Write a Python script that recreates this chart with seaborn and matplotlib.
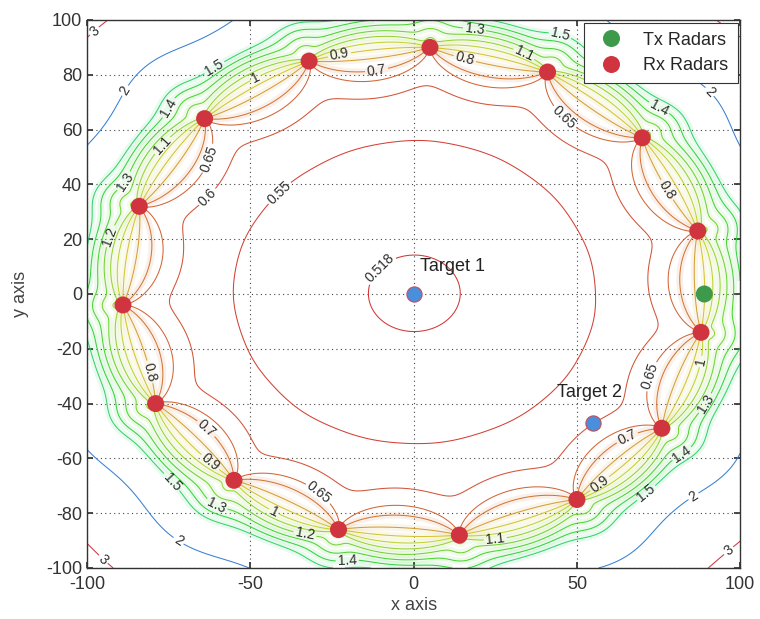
import numpy as np
import matplotlib
matplotlib.use("Agg")
import matplotlib.pyplot as plt
from matplotlib.colors import ListedColormap
import seaborn as sns
import pandas as pd

# Radar and target positions
tx_x = [89]
tx_y = [0]
rx_x = [5, 41, 70, 87, 88, 76, 50, 14, -23, -55, -79, -89, -84, -64, -32]
rx_y = [90, 81, 57, 23, -14, -49, -75, -88, -86, -68, -40, -4, 32, 64, 85]
tgt_x = [0, 55]
tgt_y = [0, -47]
tgt_names = ["Target 1", "Target 2"]
legend_names = ["Tx Radars", "Rx Radars"]
levels = [0.518, 0.55, 0.6, 0.65, 0.7, 0.8, 0.9, 1, 1.1, 1.2, 1.3, 1.4, 1.5, 2, 3]

sns.set_theme(style="ticks")
plt.rcParams["font.family"] = ["Liberation Sans", "DejaVu Sans"]
plt.rcParams["axes.unicode_minus"] = False

# Horizontal DOP of time-difference positioning with the receiver array
gx = np.linspace(-100, 100, 601)
gy = np.linspace(-100, 100, 601)
X, Y = np.meshgrid(gx, gy)
rows = []
for rx, ry in zip(rx_x, rx_y):
    dx, dy = X - rx, Y - ry
    d = np.hypot(dx, dy) + 1e-9
    rows.append(np.stack([dx / d, dy / d, np.ones_like(X)], axis=-1))
H = np.stack(rows, axis=-2)                      # (..., n_rx, 3)
G = np.einsum("...ki,...kj->...ij", H, H)
C = np.linalg.inv(G)
Z = np.sqrt(C[..., 0, 0] + C[..., 1, 1])

# muted hsv palette for the contour lines
base = plt.get_cmap("hsv")(np.linspace(0, 1, 256))
muted = base.copy()
muted[:, :3] = base[:, :3] * 0.65 + 0.17
cmap = ListedColormap(muted)

fig = plt.figure(figsize=(7.6, 6.19), dpi=100)
ax = fig.add_axes([0.1145, 0.0824, 0.8595, 0.8853])

# soft halo along the ring of receivers
halo_levels = [v for v in levels if 0.7 <= v <= 1.5]
ax.contour(X, Y, Z, levels=halo_levels, cmap=cmap, vmin=levels[0], vmax=levels[-1],
           linewidths=5, alpha=0.10)
cs = ax.contour(X, Y, Z, levels=levels, cmap=cmap, vmin=levels[0], vmax=levels[-1],
                linewidths=0.75, alpha=0.95)

# spread several labels along every contour path, away from markers and texts
marks = np.array([tx_x + rx_x + tgt_x, tx_y + rx_y + tgt_y], float).T
keep_out = [(-2, 32, 3, 17), (40, 70, -43, -28), (52, 101, 74, 101)]
spots = []

def free(px, py):
    if np.min(np.hypot(marks[:, 0] - px, marks[:, 1] - py)) < 9:
        return False
    for x0, x1, y0, y1 in keep_out:
        if x0 <= px <= x1 and y0 <= py <= y1:
            return False
    for qx, qy in spots:
        if np.hypot(px - qx, py - qy) < 11:
            return False
    return True

for lev, segs in zip(cs.levels, cs.allsegs):
    spacing = 150 if lev >= 0.65 else 260
    for seg in segs:
        if len(seg) < 3:
            continue
        step = np.hypot(*np.diff(seg, axis=0).T)
        s = np.concatenate([[0], np.cumsum(step)])
        n = max(1, int(s[-1] // spacing))
        for k in range(n):
            for frac in (0.35, 0.5, 0.2, 0.65, 0.1, 0.8):
                target = (k + frac) * s[-1] / n
                i = min(int(np.searchsorted(s, target)), len(seg) - 1)
                px, py = float(seg[i][0]), float(seg[i][1])
                if free(px, py):
                    spots.append((px, py))
                    break
if spots:
    ax.clabel(cs, manual=spots, inline=True, inline_spacing=2,
              fontsize=10, colors="#222222", fmt=lambda v: f"{v:g}")

radars = pd.DataFrame({
    "x": tx_x + rx_x,
    "y": tx_y + rx_y,
    "role": [legend_names[0]] * len(tx_x) + [legend_names[1]] * len(rx_x),
})
sns.scatterplot(data=radars, x="x", y="y", hue="role", ax=ax, s=150,
                palette={legend_names[0]: "#3c9a4a", legend_names[1]: "#d0343f"},
                edgecolor="none", zorder=5)
targets = pd.DataFrame({"x": tgt_x, "y": tgt_y, "name": tgt_names})
sns.scatterplot(data=targets, x="x", y="y", ax=ax, s=120, color="#4a8fdc",
                edgecolor="#c05060", linewidth=0.8, zorder=5, legend=False)
ax.text(tgt_x[0] + 2, tgt_y[0] + 10, tgt_names[0], fontsize=13, color="#222222",
        va="center", ha="left", zorder=6)
ax.text(tgt_x[1] - 11, tgt_y[1] + 11, tgt_names[1], fontsize=13, color="#222222",
        va="center", ha="left", zorder=6)

leg = ax.legend(loc="upper right", fontsize=13, frameon=True, fancybox=False,
                edgecolor="#333333", borderaxespad=0.15, handletextpad=0.8,
                labelspacing=0.45, borderpad=0.5, markerscale=1.0)
leg.get_frame().set_linewidth(0.8)
leg.get_frame().set_alpha(1)
leg.set_zorder(10)

ax.set_xlim(-100, 100)
ax.set_ylim(-100, 100)
ax.set_xticks([-100, -50, 0, 50, 100])
ax.set_yticks(np.arange(-100, 101, 20))
ax.grid(True, linestyle=(0, (1, 3)), color="#444444", linewidth=0.8)
ax.tick_params(direction="in", top=True, right=True, labelsize=13,
               colors="#333333", length=4)
ax.tick_params(axis="x", pad=6)
for sp in ax.spines.values():
    sp.set_color("#333333")
    sp.set_linewidth(1.0)
ax.set_xlabel("x axis", fontsize=13, color="#444444", labelpad=3)
ax.set_ylabel("y axis", fontsize=13, color="#444444", labelpad=12)

fig.savefig("out.png", dpi=100)
